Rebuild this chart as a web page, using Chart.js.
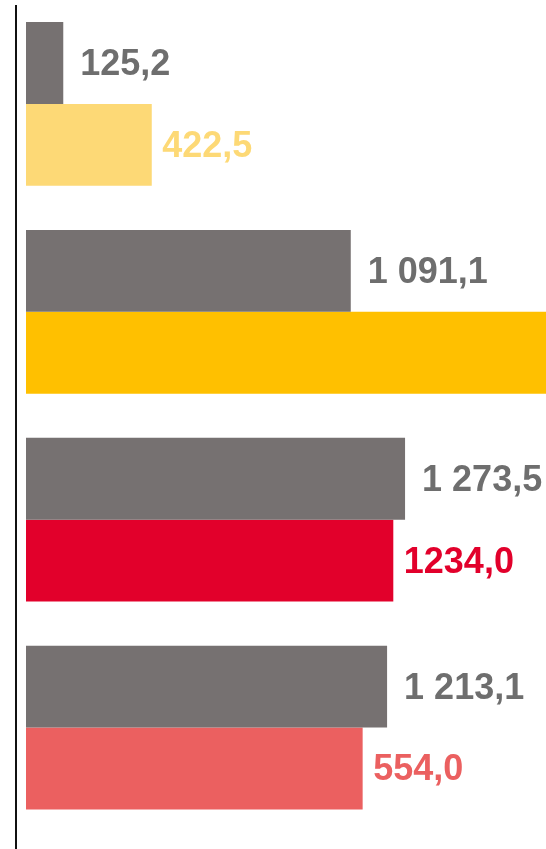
<!DOCTYPE html>
<html>
<head>
<meta charset="utf-8">
<script src="https://cdn.jsdelivr.net/npm/chart.js@4/dist/chart.umd.min.js"></script>
<style>
  html, body { margin: 0; padding: 0; background: #ffffff; overflow: hidden; }
  #wrap { width: 546px; height: 849px; }
</style>
</head>
<body>
<div id="wrap"><canvas id="c" width="546" height="849"></canvas></div>
<script>
// ---- data ----
const categories = ['1', '2', '3', '4'];
const grayValues = [125.2, 1091.1, 1273.5, 1213.1];
const grayLabels = ['125,2', '1 091,1', '1 273,5', '1 213,1'];
const colorValues = [422.5, 1850, 1234.0, 1131];
const colorLabels = ['422,5', '', '1234,0', '554,0'];
const colorBarColors = ['#FDD976', '#FFC000', '#E2002B', '#EB6060'];
const grayColor = '#767171';
const grayTextColor = '#6E6E6E';
const xMax = 1747;

const labelPlugin = {
  id: 'valueLabels',
  afterDatasetsDraw(chart) {
    const ctx = chart.ctx;
    ctx.save();
    ctx.font = 'bold 36px "Liberation Sans", Arial, sans-serif';
    ctx.textBaseline = 'middle';
    ctx.textAlign = 'left';
    const metaG = chart.getDatasetMeta(0);
    metaG.data.forEach((el, i) => {
      ctx.fillStyle = grayTextColor;
      ctx.fillText(grayLabels[i], el.x + 17, el.y + 2);
    });
    const metaC = chart.getDatasetMeta(1);
    metaC.data.forEach((el, i) => {
      if (!colorLabels[i]) return;
      ctx.fillStyle = colorBarColors[i];
      ctx.fillText(colorLabels[i], el.x + 10.5, el.y + 2);
    });
    ctx.restore();
  }
};

const axisLinePlugin = {
  id: 'axisLine',
  afterDraw(chart) {
    const ctx = chart.ctx;
    const x = chart.scales.x.getPixelForValue(0) - 10;
    ctx.save();
    ctx.strokeStyle = '#111111';
    ctx.lineWidth = 2;
    ctx.beginPath();
    ctx.moveTo(x, 5);
    ctx.lineTo(x, chart.height);
    ctx.stroke();
    ctx.restore();
  }
};

new Chart(document.getElementById('c'), {
  type: 'bar',
  data: {
    labels: categories,
    datasets: [
      {
        data: grayValues,
        backgroundColor: grayColor,
        borderWidth: 0,
        categoryPercentage: 0.788,
        barPercentage: 1.0
      },
      {
        data: colorValues,
        backgroundColor: colorBarColors,
        borderWidth: 0,
        categoryPercentage: 0.788,
        barPercentage: 1.0
      }
    ]
  },
  options: {
    indexAxis: 'y',
    responsive: false,
    animation: false,
    layout: { padding: { left: 26, right: 0, top: -1.5, bottom: 17.5 } },
    plugins: {
      legend: { display: false },
      tooltip: { enabled: false }
    },
    scales: {
      x: { display: false, min: 0, max: xMax },
      y: { display: false }
    }
  },
  plugins: [labelPlugin, axisLinePlugin]
});
</script>
</body>
</html>
